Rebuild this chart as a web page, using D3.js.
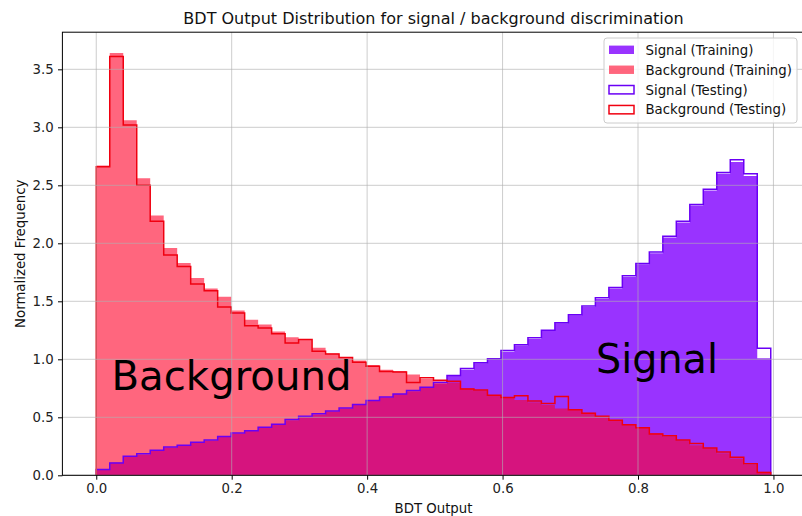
<!DOCTYPE html>
<html>
<head>
<meta charset="utf-8">
<script src="https://cdn.jsdelivr.net/npm/d3@7"></script>
<style>
  html, body { margin: 0; padding: 0; background: #fff; }
  svg { display: block; }
  text { font-family: "DejaVu Sans", sans-serif; }
</style>
</head>
<body>
<svg id="chart" width="802" height="516"></svg>
<script>
// ---------------- data ----------------
const binLo = 0.0, binHi = 0.996, nBins = 50;

const signalTrain = [0.05,0.11,0.16,0.18,0.21,0.24,0.26,0.28,0.30,0.33,
  0.36,0.385,0.41,0.435,0.475,0.505,0.525,0.55,0.575,0.605,
  0.64,0.67,0.70,0.725,0.755,0.79,0.855,0.91,0.965,1.0,
  1.065,1.12,1.175,1.245,1.31,1.38,1.45,1.52,1.61,1.71,
  1.82,1.915,2.05,2.18,2.325,2.455,2.60,2.70,2.58,1.01];

const backgroundTrain = [2.67,3.64,3.06,2.56,2.24,1.96,1.83,1.70,1.61,1.54,
  1.42,1.34,1.30,1.24,1.19,1.17,1.10,1.05,1.02,0.99,
  0.95,0.91,0.90,0.87,0.83,0.81,0.80,0.75,0.73,0.69,
  0.67,0.65,0.63,0.605,0.575,0.565,0.54,0.50,0.475,0.435,
  0.41,0.365,0.335,0.30,0.26,0.23,0.19,0.145,0.09,0.03];

const signalTest = [0.05,0.105,0.165,0.185,0.215,0.245,0.26,0.285,0.305,0.335,
  0.365,0.385,0.415,0.44,0.48,0.51,0.53,0.555,0.58,0.61,
  0.645,0.675,0.70,0.73,0.76,0.80,0.86,0.92,0.97,1.005,
  1.075,1.125,1.185,1.25,1.315,1.385,1.46,1.53,1.62,1.72,
  1.825,1.925,2.06,2.19,2.335,2.465,2.61,2.72,2.60,1.095];

const backgroundTest = [2.66,3.61,3.02,2.50,2.19,1.90,1.80,1.65,1.59,1.45,
  1.40,1.29,1.27,1.22,1.14,1.17,1.07,1.045,1.015,0.975,
  0.94,0.895,0.89,0.80,0.84,0.82,0.81,0.745,0.735,0.69,
  0.67,0.685,0.64,0.62,0.68,0.565,0.535,0.51,0.475,0.435,
  0.41,0.355,0.34,0.305,0.275,0.235,0.20,0.155,0.10,0.025];

const xTicks = [0.0, 0.2, 0.4, 0.6, 0.8, 1.0];
const yTicks = [0.0, 0.5, 1.0, 1.5, 2.0, 2.5, 3.0, 3.5];

const legendLabels = ["Signal (Training)", "Background (Training)", "Signal (Testing)", "Background (Testing)"];
const titleText = "BDT Output Distribution for signal / background discrimination";
const xLabelText = "BDT Output";
const yLabelText = "Normalized Frequency";

// ---------------- layout / styles ----------------
const plot = { left: 62.4, right: 804.6, top: 32.2, bottom: 475.3 };
const sigFill = "rgb(128,0,255)", sigAlpha = 0.8;
const bkgFill = "rgb(255,0,40)", bkgAlpha = 0.6;
const sigLine = "#6a00f5", bkgLine = "#f00010";
const fs = 13.3;

const svg = d3.select("#chart");
svg.append("rect").attr("width", 802).attr("height", 516).attr("fill", "#fff");

const x = d3.scaleLinear().domain([-0.05, 1.046]).range([plot.left, plot.right]);
const y = d3.scaleLinear().domain([0, 3.82]).range([plot.bottom, plot.top]);

const edges = d3.range(nBins + 1).map(i => binLo + (binHi - binLo) * i / nBins);

function stepPoints(vals) {
  const pts = [[edges[0], 0]];
  vals.forEach((v, i) => { pts.push([edges[i], v]); pts.push([edges[i + 1], v]); });
  pts.push([edges[nBins], 0]);
  return pts;
}
const line = d3.line().x(d => x(d[0])).y(d => y(d[1]));

svg.append("defs").append("clipPath").attr("id", "clip")
  .append("rect").attr("x", plot.left).attr("y", plot.top)
  .attr("width", plot.right - plot.left).attr("height", plot.bottom - plot.top);

const g = svg.append("g").attr("clip-path", "url(#clip)");

// filled training histograms
g.append("path").attr("d", line(stepPoints(signalTrain)) + "Z")
  .attr("fill", sigFill).attr("fill-opacity", sigAlpha).attr("stroke", "none");
g.append("path").attr("d", line(stepPoints(backgroundTrain)) + "Z")
  .attr("fill", bkgFill).attr("fill-opacity", bkgAlpha).attr("stroke", "none");

// grid
const grid = svg.append("g").attr("stroke", "#b0b0b0").attr("stroke-opacity", 0.7).attr("stroke-width", 0.9);
xTicks.forEach(t => grid.append("line").attr("x1", x(t)).attr("x2", x(t)).attr("y1", plot.top).attr("y2", plot.bottom));
yTicks.forEach(t => grid.append("line").attr("x1", plot.left).attr("x2", plot.right).attr("y1", y(t)).attr("y2", y(t)));

// testing step outlines
g.append("path").attr("d", line(stepPoints(signalTest)))
  .attr("fill", "none").attr("stroke", sigLine).attr("stroke-width", 1.5).attr("stroke-linejoin", "miter");
g.append("path").attr("d", line(stepPoints(backgroundTest)))
  .attr("fill", "none").attr("stroke", bkgLine).attr("stroke-width", 1.5).attr("stroke-linejoin", "miter");

// axes
const xAxis = d3.axisBottom(x).tickValues(xTicks).tickFormat(d3.format(".1f")).tickSize(4.4).tickPadding(4.2);
const yAxis = d3.axisLeft(y).tickValues(yTicks).tickFormat(d3.format(".1f")).tickSize(4.4).tickPadding(4.4);
const gx = svg.append("g").attr("transform", `translate(0,${plot.bottom})`).call(xAxis);
const gy = svg.append("g").attr("transform", `translate(${plot.left},0)`).call(yAxis);
[gx, gy].forEach(a => {
  a.select(".domain").remove();
  a.selectAll("text").attr("font-family", "DejaVu Sans").attr("font-size", fs).attr("fill", "#222");
  a.selectAll("line").attr("stroke", "#000").attr("stroke-width", 1);
});

// spines
svg.append("rect").attr("x", plot.left).attr("y", plot.top)
  .attr("width", plot.right - plot.left).attr("height", plot.bottom - plot.top)
  .attr("fill", "none").attr("stroke", "#000").attr("stroke-width", 1);

// title and labels
svg.append("text").attr("x", (plot.left + plot.right) / 2).attr("y", 23.5)
  .attr("text-anchor", "middle").attr("font-size", 16).attr("fill", "#111").text(titleText);
svg.append("text").attr("x", (plot.left + plot.right) / 2).attr("y", 513)
  .attr("text-anchor", "middle").attr("font-size", fs).attr("fill", "#111").text(xLabelText);
svg.append("text").attr("transform", `translate(24.5,${(plot.top + plot.bottom) / 2}) rotate(-90)`)
  .attr("text-anchor", "middle").attr("font-size", fs).attr("fill", "#111").text(yLabelText);

// legend
const lg = svg.append("g");
lg.append("rect").attr("x", 604).attr("y", 38).attr("width", 193).attr("height", 85).attr("rx", 3)
  .attr("fill", "#fff").attr("fill-opacity", 0.8).attr("stroke", "#cccccc").attr("stroke-width", 1);
const legendStyles = [
  { fill: sigFill, fo: sigAlpha, stroke: "none" },
  { fill: bkgFill, fo: bkgAlpha, stroke: "none" },
  { fill: "none", fo: 0, stroke: sigLine },
  { fill: "none", fo: 0, stroke: bkgLine }
];
legendLabels.forEach((lab, i) => {
  const cy = 49.8 + i * 19.95;
  const s = legendStyles[i];
  lg.append("rect").attr("x", 609).attr("y", cy - 4.2).attr("width", 25).attr("height", 8.4)
    .attr("fill", s.fill).attr("fill-opacity", s.fo).attr("stroke", s.stroke).attr("stroke-width", 1.5);
  lg.append("text").attr("x", 645.5).attr("y", cy + 4.8).attr("font-size", fs).attr("fill", "#111").text(lab);
});

// big annotations
svg.append("text").attr("x", 111.5).attr("y", 390).attr("font-family", "Lato, 'Open Sans', sans-serif")
  .attr("font-size", 40).attr("fill", "#000").attr("textLength", 240).attr("lengthAdjust", "spacingAndGlyphs").text("Background");
svg.append("text").attr("x", 596).attr("y", 373).attr("font-family", "Lato, 'Open Sans', sans-serif")
  .attr("font-size", 40).attr("fill", "#000").attr("textLength", 122).attr("lengthAdjust", "spacingAndGlyphs").text("Signal");
</script>
</body>
</html>
